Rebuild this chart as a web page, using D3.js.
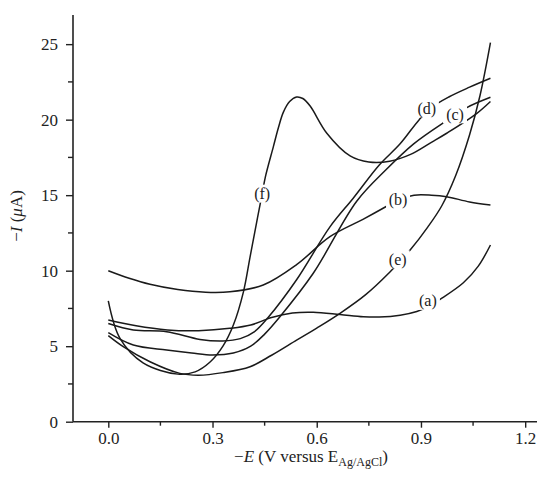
<!DOCTYPE html>
<html>
<head>
<meta charset="utf-8">
<script src="https://cdn.jsdelivr.net/npm/d3@7"></script>
<style>
  body{margin:0;background:#fff;}
  svg{display:block;}
  text{font-family:"Liberation Serif","DejaVu Serif",serif;fill:#222;}
</style>
</head>
<body>
<script>
// size of the picture
const w = 543;
const h = 484;

// axis ticks
const xTicks = [0.0, 0.3, 0.6, 0.9, 1.2];
const xMinor = [0.15, 0.45, 0.75, 1.05];
const yTicks = [0, 5, 10, 15, 20, 25];
const yMinor = [2.5, 7.5, 12.5, 17.5, 22.5];

// curves, [ -E (V), -I (uA) ]
const curveA = [[0,6.73],[0.08,6.35],[0.17,6.08],[0.26,6.03],[0.35,6.18],[0.41,6.4],[0.47,6.9],[0.53,7.2],[0.59,7.25],[0.667,7.1],[0.734,6.95],[0.78,6.93],[0.84,7.05],[0.888,7.3],[0.92,7.6],[0.955,8.1],[1.022,9.2],[1.065,10.3],[1.1,11.7]];
const curveB = [[0,10.0],[0.06,9.5],[0.12,9.1],[0.2,8.75],[0.28,8.57],[0.35,8.6],[0.446,9.05],[0.542,10.4],[0.638,12.25],[0.733,13.4],[0.8,14.25],[0.834,14.7],[0.88,15.0],[0.93,15.0],[0.974,14.9],[1.04,14.55],[1.1,14.35]];
const curveC = [[0,5.9],[0.072,5.08],[0.168,4.75],[0.24,4.55],[0.3,4.42],[0.36,4.55],[0.41,5.0],[0.45,5.8],[0.494,6.95],[0.59,9.83],[0.715,14.6],[0.8,16.7],[0.879,18.4],[0.965,19.8],[1.0,20.3],[1.032,20.8],[1.1,21.48]];
const curveD = [[0,6.5],[0.072,6.07],[0.168,5.96],[0.264,5.45],[0.33,5.35],[0.38,5.5],[0.42,5.95],[0.46,6.9],[0.542,9.4],[0.638,12.9],[0.705,14.8],[0.78,17.0],[0.84,18.4],[0.895,20.0],[0.93,20.8],[0.98,21.5],[1.04,22.15],[1.1,22.74]];
const curveE = [[0,5.7],[0.043,4.97],[0.12,3.97],[0.206,3.2],[0.26,3.08],[0.33,3.25],[0.408,3.64],[0.47,4.4],[0.542,5.4],[0.6,6.2],[0.667,7.18],[0.74,8.4],[0.81,9.9],[0.87,11.4],[0.92,12.9],[0.96,14.3],[1.0,16.3],[1.04,19.0],[1.07,21.6],[1.1,25.1]];
const curveF = [[0,8.0],[0.034,5.5],[0.1,3.9],[0.2,3.15],[0.25,3.3],[0.293,3.95],[0.33,5.0],[0.36,6.4],[0.389,8.6],[0.408,10.9],[0.427,13.2],[0.443,15.1],[0.452,16.2],[0.475,18.2],[0.49,19.5],[0.504,20.5],[0.522,21.2],[0.542,21.5],[0.56,21.4],[0.581,20.9],[0.629,19.1],[0.696,17.6],[0.75,17.2],[0.81,17.25],[0.87,17.7],[0.93,18.5],[0.974,19.1],[1.06,20.4],[1.1,21.2]];

const curves = [curveA, curveB, curveC, curveD, curveE, curveF];

// curve labels and where they sit on the curve
const labelText = ['(a)', '(b)', '(c)', '(d)', '(e)', '(f)'];
const labelPos = [[0.92,8.0],[0.834,14.7],[0.998,20.35],[0.917,20.75],[0.833,10.75],[0.443,15.1]];

//----------scales----------
const x = d3.scaleLinear().domain([-0.1016, 1.234]).range([73, 537]);
const y = d3.scaleLinear().domain([0, 26.93]).range([421.7, 15]);

const svg = d3.select('body').append('svg')
  .attr('width', w)
  .attr('height', h);

//----------curves----------
const line = d3.line()
  .x(d => x(d[0]))
  .y(d => y(d[1]))
  .curve(d3.curveCatmullRom.alpha(0.5));

svg.selectAll('path.curve')
  .data(curves)
  .enter().append('path')
  .attr('class', 'curve')
  .attr('d', line)
  .attr('fill', 'none')
  .attr('stroke', '#1a1a1a')
  .attr('stroke-width', 1.5);

//----------labels on the curves----------
const lab = svg.selectAll('g.lab')
  .data(labelText)
  .enter().append('g')
  .attr('class', 'lab')
  .attr('transform', (d, i) => 'translate(' + x(labelPos[i][0]) + ',' + y(labelPos[i][1]) + ')');

lab.append('rect')
  .attr('x', -12).attr('y', -9)
  .attr('width', 24).attr('height', 18)
  .attr('fill', '#fff');

lab.append('text')
  .attr('text-anchor', 'middle')
  .attr('dy', '0.35em')
  .style('font-size', '16px')
  .text(d => d);

//----------axes----------
const xAxis = d3.axisBottom(x).tickValues(xTicks).tickSize(6).tickPadding(4)
  .tickFormat(d3.format('.1f'));
const yAxis = d3.axisLeft(y).tickValues(yTicks).tickSize(7).tickPadding(8)
  .tickFormat(d3.format('d'));

const gx = svg.append('g').attr('transform', 'translate(0,' + y(0) + ')').call(xAxis);
const gy = svg.append('g').attr('transform', 'translate(' + x.range()[0] + ',0)').call(yAxis);

// minor ticks
gx.selectAll('line.minor')
  .data(xMinor)
  .enter().append('line')
  .attr('class', 'minor')
  .attr('x1', d => x(d)).attr('x2', d => x(d))
  .attr('y1', 0).attr('y2', 4);
gy.selectAll('line.minor')
  .data(yMinor)
  .enter().append('line')
  .attr('class', 'minor')
  .attr('y1', d => y(d)).attr('y2', d => y(d))
  .attr('x1', 0).attr('x2', -5);

[gx, gy].forEach(g => {
  g.select('.domain').attr('stroke', '#222').attr('stroke-width', 1.6);
  g.selectAll('line').attr('stroke', '#222').attr('stroke-width', 1.4);
  g.selectAll('text').style('font-size', '17px').style('font-family', '"Liberation Serif",serif').attr('fill', '#222');
});
gx.select('.domain').attr('d', 'M' + x.range()[0] + ',0H' + x.range()[1]);
gy.select('.domain').attr('d', 'M0,' + y.range()[0] + 'V' + y.range()[1]);

//----------axis titles----------
const xt = svg.append('text')
  .attr('x', 311)
  .attr('y', 462)
  .attr('text-anchor', 'middle')
  .style('font-size', '17px');
xt.append('tspan').text('\u2212');
xt.append('tspan').style('font-style', 'italic').text('E');
xt.append('tspan').text(' (V versus E');
xt.append('tspan').style('font-size', '12px').attr('dy', 4).text('Ag/AgCl');
xt.append('tspan').attr('dy', -4).text(')');

const yt = svg.append('text')
  .attr('transform', 'translate(22,216) rotate(-90)')
  .attr('text-anchor', 'middle')
  .style('font-size', '17px');
yt.append('tspan').text('\u2212');
yt.append('tspan').style('font-style', 'italic').text('I');
yt.append('tspan').text(' (');
yt.append('tspan').style('font-style', 'italic').text('\u03bc');
yt.append('tspan').text('A)');
</script>
</body>
</html>
